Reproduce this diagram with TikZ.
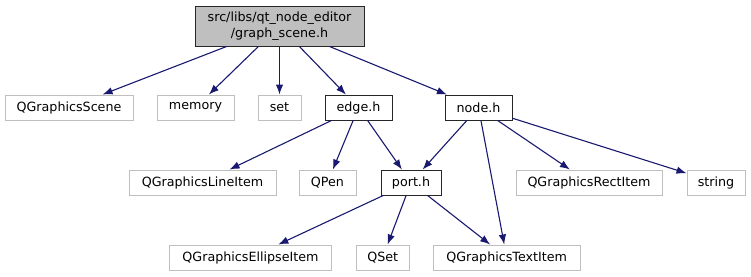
\documentclass[tikz,border=0pt]{standalone}
\usepackage{fontspec}
\setmainfont{DejaVu Sans}
\usetikzlibrary{arrows.meta}
\definecolor{edgeblue}{HTML}{191970}
\definecolor{boxgrey}{HTML}{BFBFBF}
\begin{document}
\begin{tikzpicture}[x=1pt, y=-1pt, font=\fontsize{12.7}{15.5}\selectfont,
		file/.style={draw=black!85, line width=0.9pt, fill=white, inner sep=0pt, minimum height=25pt},
		sys/.style={draw=boxgrey, line width=1pt, fill=white, inner sep=0pt, minimum height=25pt},
		inc/.style={draw=edgeblue, line width=1.1pt, -{Latex[length=10pt,width=7.5pt]}}]
		\useasboundingbox (0, 0) rectangle (751, 276);
		%% Header
		\node[file, fill=boxgrey, minimum width=169pt, minimum height=40pt, align=center] (scene) at (279.5, 26) {src/libs/qt\_node\_editor\\/graph\_scene.h};
		%% Row 1
		\node[sys, minimum width=128pt] (qscene) at (69, 107.5) {QGraphicsScene};
		\node[sys, minimum width=77pt] (memory) at (195.5, 107.5) {memory};
		\node[sys, minimum width=43pt] (set) at (279.5, 107.5) {set};
		\node[file, minimum width=67pt] (edge) at (358.5, 107.5) {edge.h};
		\node[file, minimum width=67pt] (node) at (478.5, 107.5) {node.h};
		%% Row 2
		\node[sys, minimum width=147pt] (lineitem) at (202.5, 182.5) {QGraphicsLineItem};
		\node[sys, minimum width=57pt] (qpen) at (327.5, 182.5) {QPen};
		\node[file, minimum width=60pt] (port) at (411, 182.5) {port.h};
		\node[sys, minimum width=146pt] (rectitem) at (589, 182.5) {QGraphicsRectItem};
		\node[sys, minimum width=58pt] (string) at (716, 182.5) {string};
		%% Row 3
		\node[sys, minimum width=162pt] (ellipseitem) at (250.5, 257.5) {QGraphicsEllipseItem};
		\node[sys, minimum width=53pt] (qset) at (382.7, 257.5) {QSet};
		\node[sys, minimum width=147pt] (textitem) at (506.7, 257.5) {QGraphicsTextItem};
		%% Includes
		\foreach \t in {qscene, memory, set, edge, node}
			\draw[inc] (scene) -- (\t);
		\foreach \t in {lineitem, qpen, port}
			\draw[inc] (edge) -- (\t);
		\foreach \t in {port, textitem, rectitem, string}
			\draw[inc] (node) -- (\t);
		\foreach \t in {ellipseitem, qset, textitem}
			\draw[inc] (port) -- (\t);
	\end{tikzpicture}
\end{document}
